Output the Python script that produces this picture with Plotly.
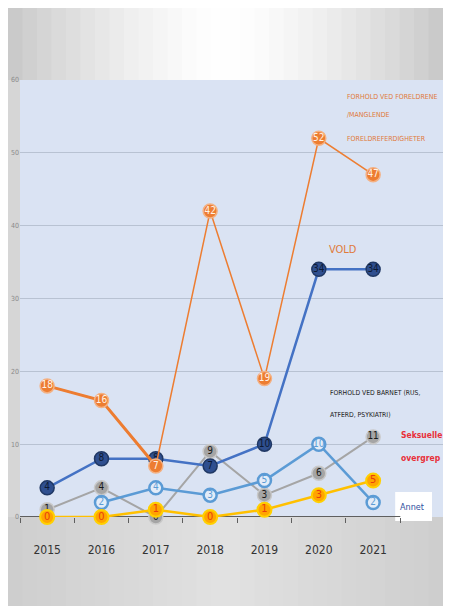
import plotly.graph_objects as go

years = [2015, 2016, 2017, 2018, 2019, 2020, 2021]
foreldrene = [18, 16, 7, 42, 19, 52, 47]
vold = [4, 8, 8, 7, 10, 34, 34]
barnet = [1, 4, 0, 9, 3, 6, 11]
annet = [None, 2, 4, 3, 5, 10, 2]
seksuelle = [0, 0, 1, 0, 1, 3, 5]

NARROW = "DejaVu Sans Condensed, Liberation Sans Narrow, Arial Narrow, sans-serif"


def labels(vals):
    return ["" if v is None else str(v) for v in vals]


fig = go.Figure()

# gray line
fig.add_trace(go.Scatter(
    x=years, y=barnet, mode="lines+markers+text", text=labels(barnet),
    line=dict(color="#A5A5A5", width=2),
    marker=dict(size=14, color="#A5A5A5", line=dict(color="#C9C9C9", width=1.5)),
    textfont=dict(family=NARROW, size=10, color="#1a1a1a"),
    textposition="middle center", cliponaxis=False, showlegend=False))

# light blue line
fig.add_trace(go.Scatter(
    x=years, y=annet, mode="lines+markers+text", text=labels(annet),
    line=dict(color="#5B9BD5", width=2.5),
    marker=dict(size=13, color="#E3ECF8", line=dict(color="#5B9BD5", width=2.5)),
    textfont=dict(family=NARROW, size=10, color="#5B9BD5"),
    textposition="middle center", cliponaxis=False, showlegend=False))

# dark blue line (VOLD)
fig.add_trace(go.Scatter(
    x=years, y=vold, mode="lines+markers+text", text=labels(vold),
    line=dict(color="#4472C4", width=2.5),
    marker=dict(size=14, color="#2F4F8F", line=dict(color="#203864", width=1.5)),
    textfont=dict(family=NARROW, size=10, color="#0d1a33"),
    textposition="middle center", cliponaxis=False, showlegend=False))

# orange line - thicker first segments
fig.add_trace(go.Scatter(
    x=years[:3], y=foreldrene[:3], mode="lines",
    line=dict(color="#ED7D31", width=3),
    cliponaxis=False, showlegend=False, hoverinfo="skip"))
fig.add_trace(go.Scatter(
    x=years, y=foreldrene, mode="lines+markers+text", text=labels(foreldrene),
    line=dict(color="#ED7D31", width=1.5),
    marker=dict(size=14, color="#ED7D31", line=dict(color="#F4B183", width=1.5)),
    textfont=dict(family=NARROW, size=10, color="#FFF2E6"),
    textposition="middle center", cliponaxis=False, showlegend=False))

# yellow line (Seksuelle overgrep)
fig.add_trace(go.Scatter(
    x=years, y=seksuelle, mode="lines+markers+text", text=labels(seksuelle),
    line=dict(color="#FFC000", width=2.5),
    marker=dict(size=14, color="#FFA500", line=dict(color="#FFD000", width=2)),
    textfont=dict(family=NARROW, size=11, color="#E8400C"),
    textposition="middle center", cliponaxis=False, showlegend=False))

# background panel (gray frame with light top gradient) and blue plot area
PX0, PY0, PY1 = -0.0284, -0.204, 1.166
shapes = [
    dict(type="rect", xref="paper", yref="paper", x0=PX0, x1=1.0, y0=PY0, y1=PY1,
         fillcolor="#D6D6D6", line_width=0, layer="below"),
]
n = 30
for i in range(n):
    xa = PX0 + (1.0 - PX0) * i / n
    xb = PX0 + (1.0 - PX0) * (i + 1) / n
    t = abs((i + 0.5) / n - 0.5) * 2  # 0 centre, 1 edge
    top = int(255 - 55 * t ** 1.5)
    bot = int(226 - 20 * t)
    shapes.append(dict(type="rect", xref="paper", yref="paper", x0=xa, x1=xb + 0.002,
                       y0=1.0, y1=PY1, fillcolor=f"rgb({top},{top},{top})",
                       line_width=0, layer="below"))
    shapes.append(dict(type="rect", xref="paper", yref="paper", x0=xa, x1=xb + 0.002,
                       y0=PY0, y1=0.0, fillcolor=f"rgb({bot},{bot},{bot})",
                       line_width=0, layer="below"))
shapes.append(dict(type="rect", xref="paper", yref="paper", x0=0, x1=1, y0=0, y1=1,
                   fillcolor="#DAE3F3", line_width=0, layer="below"))
# x axis line across the categories
shapes.append(dict(type="line", xref="x", yref="y", x0=2014.5, x1=2021.5, y0=0, y1=0,
                   line=dict(color="#5F5F5F", width=2), layer="below"))
# white box behind "Annet"
shapes.append(dict(type="rect", xref="paper", yref="paper", x0=0.887, x1=0.974,
                   y0=-0.009, y1=0.057, fillcolor="white", line_width=0, layer="below"))


def note(x, y, text, size, color, anchor="left"):
    return dict(x=x, y=y, xref="paper", yref="paper", xanchor=anchor, yanchor="middle",
                showarrow=False, text=text, font=dict(family=NARROW, size=size, color=color))


ORANGE_TXT = "#E07A3A"
annotations = [
    note(0.768, 0.961, "FORHOLD VED FORELDRENE", 7, ORANGE_TXT),
    note(0.768, 0.920, "/MANGLENDE", 7, ORANGE_TXT),
    note(0.768, 0.865, "FORELDREFERDIGHETER", 7, ORANGE_TXT),
    note(0.764, 0.611, "VOLD", 11, ORANGE_TXT, anchor="center"),
    note(0.728, 0.284, "FORHOLD VED BARNET (RUS,", 6.8, "#1a1a1a"),
    note(0.728, 0.234, "ATFERD, PSYKIATRI)", 6.8, "#1a1a1a"),
    note(0.896, 0.188, "<b>Seksuelle</b>", 8.5, "#E8303A"),
    note(0.896, 0.135, "<b>overgrep</b>", 8.5, "#E8303A"),
    note(0.893, 0.023, "Annet", 9, "#2F4FA0"),
]

fig.update_layout(
    width=435, height=598, autosize=False,
    margin=dict(l=12, r=0, t=72, b=89),
    paper_bgcolor="white", plot_bgcolor="rgba(0,0,0,0)",
    shapes=shapes, annotations=annotations,
    xaxis=dict(range=[2014.5, 2022.286], tickvals=years, ticktext=[str(y) for y in years],
               ticks="", showgrid=False, zeroline=False, showline=False,
               tickfont=dict(family=NARROW, size=12, color="#333333"),
               ticklabelstandoff=24,
               minor=dict(ticks="outside", tick0=2014.5, dtick=1, ticklen=5,
                          tickcolor="#5F5F5F", showgrid=False)),
    yaxis=dict(range=[0, 60], dtick=10, showgrid=True, gridcolor="#B8C2D2", gridwidth=1,
               zeroline=False, showline=False, ticks="",
               tickfont=dict(family=NARROW, size=7, color="#8A8A8A")),
)

fig.write_html("out.html")
